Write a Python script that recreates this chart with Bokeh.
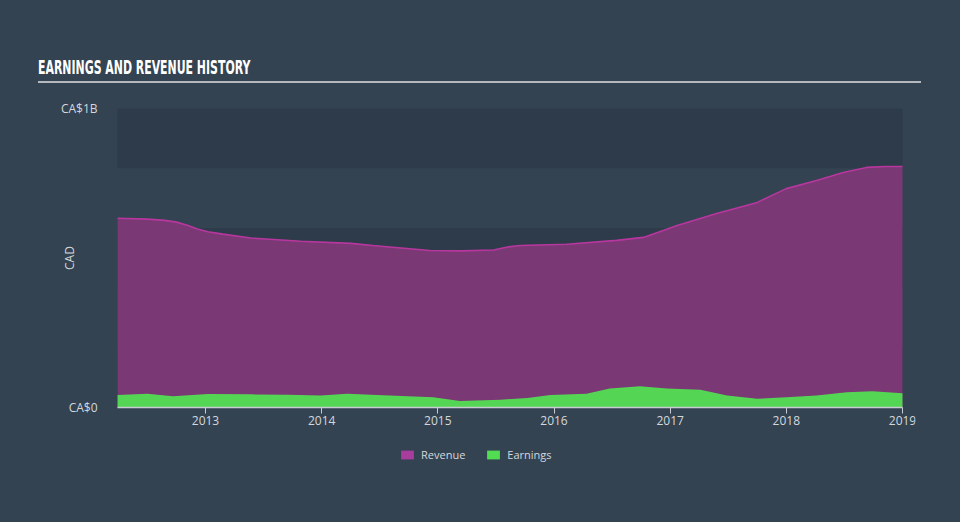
from bokeh.plotting import figure
from bokeh.layouts import column
from bokeh.models import BoxAnnotation, FixedTicker, Legend, LegendItem, ColumnDataSource, Div, Label
from bokeh.embed import file_html
from bokeh.resources import INLINE

# ---- data (values in CAD) ----
rev_years = [2012.243, 2012.5, 2012.65, 2012.75, 2012.85, 2012.93, 2013.02, 2013.15, 2013.39, 2013.82,
             2014.25, 2014.44, 2014.93, 2015.2, 2015.48, 2015.6, 2015.71, 2016.11, 2016.54, 2016.77,
             2017.06, 2017.4, 2017.75, 2018.0, 2018.26, 2018.49, 2018.69, 2018.85, 2019.0]
revenue = [0.633, 0.630, 0.626, 0.620, 0.609, 0.597, 0.588, 0.580, 0.567, 0.556,
           0.549, 0.542, 0.525, 0.524, 0.527, 0.537, 0.542, 0.546, 0.559, 0.569,
           0.609, 0.649, 0.686, 0.732, 0.759, 0.786, 0.803, 0.806, 0.806]
earn_years = [2012.243, 2012.5, 2012.72, 2013.02, 2013.39, 2013.71, 2013.99, 2014.22, 2014.53, 2014.96,
              2015.19, 2015.54, 2015.77, 2015.97, 2016.28, 2016.48, 2016.74, 2016.97, 2017.26, 2017.49,
              2017.75, 2018.0, 2018.26, 2018.52, 2018.74, 2019.0]
earnings = [0.042, 0.046, 0.038, 0.045, 0.044, 0.043, 0.040, 0.046, 0.041, 0.034,
            0.022, 0.026, 0.032, 0.042, 0.046, 0.064, 0.071, 0.064, 0.059, 0.040,
            0.029, 0.034, 0.040, 0.051, 0.054, 0.048]
year_ticks = [2013, 2014, 2015, 2016, 2017, 2018, 2019]
y_ticks = [0, 1e9]
y_tick_labels = {0: "CA$0", 1e9: "CA$1B"}
band_edges = [(0.8e9, 1.0e9), (0.4e9, 0.6e9), (0.0, 0.2e9)]
title_text = "EARNINGS AND REVENUE HISTORY"

rev_vals = [v * 1e9 for v in revenue]
earn_vals = [v * 1e9 for v in earnings]
x_first, x_last = rev_years[0], rev_years[-1]

BG = "#344352"
BAND = "#2e3b4a"
TXT = "#d4d8dc"
FONT = "Open Sans"

title = Div(text="<span>" + title_text + "</span>", width=960, height=90, margin=0,
            stylesheets=[":host { background-color: #344352; }"
                         " div { box-sizing: border-box; margin: 57px 0 0 38px; width: 883px;"
                         " padding-bottom: 4px; border-bottom: 2px solid #b4b9c0; color: #ffffff;"
                         " font-family: 'DejaVu Sans', sans-serif; white-space: nowrap;"
                         " font-weight: bold; font-size: 19px; line-height: 20px; }"
                         " span { display: inline-block; transform: scaleX(0.575); transform-origin: 0 50%; }"])

# The frame is larger than the data area so that axes' labels, the axis title and the
# legend all sit inside it; the axes are pinned at x = first year and y = 0.
p = figure(width=960, height=432, output_backend="svg", toolbar_location=None,
           x_range=(2011.7518, 2019.1118), y_range=(-0.2441e9, 1.0502e9),
           min_border_left=60, min_border_right=45, min_border_top=3, min_border_bottom=42,
           background_fill_color=BG, border_fill_color=BG, outline_line_color=None)
p.grid.visible = False

for b, t in band_edges:
    p.add_layout(BoxAnnotation(bottom=b, top=t, left=x_first, right=x_last, fill_color=BAND,
                               fill_alpha=1.0, line_color=None, level="underlay"))

rsrc = ColumnDataSource(dict(x=rev_years, y=rev_vals, z=[0] * len(rev_vals)))
esrc = ColumnDataSource(dict(x=earn_years, y=earn_vals, z=[0] * len(earn_vals)))
p.varea(x="x", y1="z", y2="y", source=rsrc, fill_color="#7a3875", fill_alpha=1.0)
p.line(x="x", y="y", source=rsrc, line_color="#b8379f", line_width=1.6)
p.varea(x="x", y1="z", y2="y", source=esrc, fill_color="#54d654", fill_alpha=1.0)

# hidden renderers that only give the legend its (brighter) swatch colours
lr = p.varea(x="x", y1="z", y2="y", source=rsrc, fill_color="#a83d9e", visible=False)
le = p.varea(x="x", y1="z", y2="y", source=esrc, fill_color="#52dc52", visible=False)
legend = Legend(items=[LegendItem(label="Revenue", renderers=[lr]),
                       LegendItem(label="Earnings", renderers=[le])],
                orientation="horizontal", location=(339, 18),
                background_fill_alpha=0, border_line_color=None,
                glyph_width=16, glyph_height=11, label_standoff=6, spacing=20,
                padding=0, margin=0, label_text_color=TXT, label_text_font_size="11px",
                label_text_font=FONT, label_height=12)
p.add_layout(legend, "center")

# x axis
xa = p.xaxis[0]
xa.fixed_location = 0
xa.bounds = (x_first, x_last)
xa.ticker = FixedTicker(ticks=year_ticks)
xa.axis_line_color = "#c8ccd2"
xa.axis_line_width = 1.5
xa.major_tick_line_color = "#c8ccd2"
xa.major_tick_out = 6
xa.major_tick_in = 0
xa.minor_tick_line_color = None
xa.major_label_text_color = TXT
xa.major_label_text_font = FONT
xa.major_label_text_font_size = "12px"
xa.major_label_standoff = 2

# y axis
ya = p.yaxis[0]
ya.fixed_location = x_first
ya.ticker = FixedTicker(ticks=y_ticks)
ya.major_label_overrides = y_tick_labels
ya.axis_line_color = None
ya.major_tick_line_color = None
ya.minor_tick_line_color = None
ya.major_label_text_color = TXT
ya.major_label_text_font = FONT
ya.major_label_text_font_size = "12px"
ya.major_label_standoff = 14

p.add_layout(Label(x=x_first, y=0.5e9, x_offset=-48, text="CAD", angle=1.5708,
                   text_align="center", text_baseline="middle", text_color=TXT,
                   text_font=FONT, text_font_size="12px"))

layout = column(title, p, spacing=0, styles={"background-color": BG})

html = file_html(layout, INLINE)
html = html.replace("<body>", "<body style=\"background-color: #344352;\">", 1)
open("out.html", "w").write(html)
